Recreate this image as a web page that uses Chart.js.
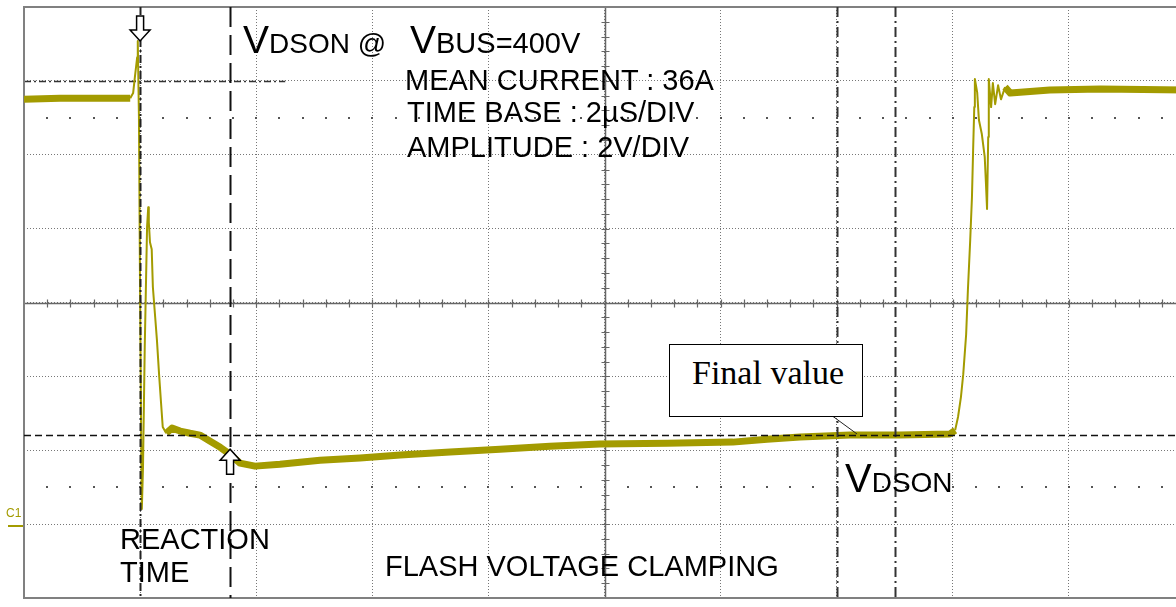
<!DOCTYPE html>
<html>
<head>
<meta charset="utf-8">
<title>VDSON flash voltage clamping</title>
<script src="https://cdn.jsdelivr.net/npm/chart.js@4/dist/chart.umd.min.js"></script>
<style>
  html, body { margin: 0; padding: 0; background: #fff; }
  #wrap { position: relative; width: 1176px; height: 607px; overflow: hidden; }
  #scope { position: absolute; left: 0; top: 0; }
  .lbl {
    position: absolute;
    font-family: "Liberation Sans", Arial, sans-serif;
    color: #000;
    line-height: 1;
    white-space: nowrap;
  }
  .box {
    position: absolute;
    box-sizing: border-box;
    border: 1.5px solid #000;
    background: #fff;
  }
  .serif { font-family: "Liberation Serif", "Times New Roman", serif; }
  .c1 { color: #a39b00; font-size: 12px; }
</style>
</head>
<body>
<div id="wrap">
  <canvas id="scope" width="1190" height="607"></canvas>

  <div class="lbl" style="left:243px; top:20px; font-size:39px;">V<span style="font-size:28px">DSON @</span></div>
  <div class="lbl" style="left:410px; top:20px; font-size:39px;">V<span style="font-size:29px">BUS=400V</span></div>
  <div class="lbl" style="left:405px; top:66px; font-size:29px;">MEAN CURRENT : 36A</div>
  <div class="lbl" style="left:407px; top:98px; font-size:29px;">TIME BASE : 2µS/DIV</div>
  <div class="lbl" style="left:407px; top:133px; font-size:29px;">AMPLITUDE : 2V/DIV</div>

  <div class="lbl" style="left:120px; top:525px; font-size:29px;">REACTION</div>
  <div class="lbl" style="left:120px; top:558px; font-size:29px;">TIME</div>
  <div class="lbl" style="left:385px; top:552px; font-size:29px;">FLASH VOLTAGE CLAMPING</div>
  <div class="lbl" style="left:845px; top:458px; font-size:40px;">V<span style="font-size:28px">DSON</span></div>

  <div class="box" style="left:669px; top:344px; width:194px; height:73px;"></div>
  <div class="lbl serif" style="left:692px; top:356px; font-size:34px;">Final value</div>

  <div class="lbl c1" style="left:6px; top:507px;">C1</div>
  <div style="position:absolute; left:8px; top:525px; width:15px; height:2px; background:#a39b00;"></div>
</div>

<script>
// Scope trace: time in µs (2 µs/div), drain-source voltage in V (2 V/div)
const timeUs = [
  0.00, 0.62, 1.83, 1.88, 1.91, 1.95, 1.96, 1.98, 2.00, 2.02,
  2.03, 2.05, 2.08, 2.12, 2.14, 2.15, 2.17, 2.20, 2.22, 2.26,
  2.29, 2.33, 2.36, 2.39, 2.45, 2.55, 2.69, 2.86, 3.03, 3.20,
  3.38, 3.55, 3.72, 3.98, 4.41, 5.10, 5.79, 6.48, 7.34, 8.20,
  9.06, 9.92, 11.08, 12.21, 12.80, 13.37, 14.23, 15.09, 15.95, 16.04,
  16.09, 16.14, 16.18, 16.23, 16.26, 16.30, 16.33, 16.35, 16.37, 16.38,
  16.42, 16.45, 16.50, 16.55, 16.57, 16.59, 16.61, 16.62, 16.66, 16.69,
  16.73, 16.78, 16.83, 16.90, 16.99, 17.67, 18.54, 20.00
];
const vdsVolts = [
  11.50, 11.53, 11.53, 11.67, 12.10, 12.64, 13.08, 11.02, 6.15, 2.08,
  0.41, 1.54, 4.79, 8.04, 8.58, 8.18, 7.63, 7.44, 6.42, 5.60,
  4.98, 3.98, 3.30, 2.63, 2.46, 2.60, 2.52, 2.46, 2.41, 2.25,
  2.08, 1.89, 1.65, 1.57, 1.62, 1.73, 1.79, 1.87, 1.95, 2.03,
  2.11, 2.17, 2.19, 2.22, 2.30, 2.36, 2.41, 2.41, 2.44, 2.54,
  2.90, 3.44, 4.06, 5.14, 6.33, 7.69, 8.85, 10.12, 11.29, 12.05,
  11.69, 10.94, 10.56, 9.94, 9.26, 8.53, 10.48, 12.05, 11.29, 11.94,
  11.37, 11.88, 11.50, 11.83, 11.67, 11.75, 11.78, 11.75
];

// Screen divisions
const timeTicks = [0, 2, 4, 6, 8, 10, 12, 14, 16, 18, 20];
const voltTicks = [-2, 0, 2, 4, 6, 8, 10, 12, 14];

// Cursors and markers
const reactionStart = 2.0;     // µs, down arrow
const reactionEnd = 3.55;      // µs, up arrow
const offCursors = [14.0, 15.0];
const finalValue = 2.41;       // V
const topCursor = 12.0;        // V
const halfDivRows = [11, 1];   // V, dotted rows

const traceColor = "#a39b00";

const scopeOverlay = {
  id: "scopeOverlay",
  beforeDatasetsDraw(chart) {
    const { ctx, chartArea: a, scales: { x, y } } = chart;
    ctx.save();

    // dotted half-division rows
    ctx.fillStyle = "#555";
    halfDivRows.forEach(v => {
      const py = Math.round(y.getPixelForValue(v));
      for (let t = 0.4; t < 20; t += 0.4) {
        ctx.fillRect(Math.round(x.getPixelForValue(t)) - 1, py - 1, 2, 2);
      }
    });

    // centre axes with minor ticks
    const cx = Math.round(x.getPixelForValue(10)) + 0.5;
    const cy = Math.round(y.getPixelForValue(6)) + 0.5;
    ctx.strokeStyle = "#666";
    ctx.lineWidth = 1.5;
    ctx.beginPath();
    ctx.moveTo(a.left, cy); ctx.lineTo(a.right, cy);
    ctx.moveTo(cx, a.top); ctx.lineTo(cx, a.bottom);
    ctx.stroke();
    ctx.lineWidth = 1.2;
    ctx.beginPath();
    for (let t = 0.4; t < 20; t += 0.4) {
      const px = Math.round(x.getPixelForValue(t)) + 0.5;
      ctx.moveTo(px, cy - 4); ctx.lineTo(px, cy + 4);
    }
    for (let v = -1.6; v < 14; v += 0.4) {
      const py = Math.round(y.getPixelForValue(v)) + 0.5;
      ctx.moveTo(cx - 4, py); ctx.lineTo(cx + 4, py);
    }
    ctx.stroke();

    // top-level cursor (partial)
    const ty = Math.round(y.getPixelForValue(topCursor)) + 0.5;
    ctx.strokeStyle = "#333";
    ctx.lineWidth = 1.5;
    ctx.setLineDash([7, 3, 2, 3]);
    ctx.beginPath();
    ctx.moveTo(a.left, ty); ctx.lineTo(x.getPixelForValue(4.5), ty);
    ctx.stroke();

    // frame
    ctx.setLineDash([]);
    ctx.strokeStyle = "#808080";
    ctx.lineWidth = 2;
    ctx.strokeRect(a.left, a.top, a.right - a.left, a.bottom - a.top);
    ctx.restore();
  },
  afterDatasetsDraw(chart) {
    const { ctx, chartArea: a, scales: { x, y } } = chart;
    ctx.save();

    const vline = (t, dash, w, color) => {
      const px = Math.round(x.getPixelForValue(t)) + 0.5;
      ctx.strokeStyle = color;
      ctx.lineWidth = w;
      ctx.setLineDash(dash);
      ctx.beginPath();
      ctx.moveTo(px, a.top); ctx.lineTo(px, a.bottom);
      ctx.stroke();
    };
    vline(reactionStart, [8, 3, 2, 3], 2, "#222");
    vline(reactionEnd, [20, 8], 2, "#111");
    offCursors.forEach(t => vline(t, [10, 4, 2, 4], 2, "#333"));

    // final value level
    const fy = Math.round(y.getPixelForValue(finalValue)) + 0.5;
    ctx.strokeStyle = "#111";
    ctx.lineWidth = 1.5;
    ctx.setLineDash([7, 4]);
    ctx.beginPath();
    ctx.moveTo(a.left, fy); ctx.lineTo(a.right, fy);
    ctx.stroke();

    // leader from "Final value" box to trace
    ctx.setLineDash([]);
    ctx.lineWidth = 1;
    ctx.strokeStyle = "#222";
    ctx.beginPath();
    ctx.moveTo(x.getPixelForValue(13.88), y.getPixelForValue(2.98));
    ctx.lineTo(x.getPixelForValue(14.35), y.getPixelForValue(2.44));
    ctx.stroke();

    // hollow arrows
    const arrow = (t, v, dir) => {
      const px = x.getPixelForValue(t);
      const py = y.getPixelForValue(v);
      const s = dir; // 1 = points down, -1 = points up
      ctx.beginPath();
      ctx.moveTo(px, py);
      ctx.lineTo(px - 10, py - 11 * s);
      ctx.lineTo(px - 3.5, py - 11 * s);
      ctx.lineTo(px - 3.5, py - 25 * s);
      ctx.lineTo(px + 3.5, py - 25 * s);
      ctx.lineTo(px + 3.5, py - 11 * s);
      ctx.lineTo(px + 10, py - 11 * s);
      ctx.closePath();
      ctx.fillStyle = "#fff";
      ctx.fill();
      ctx.strokeStyle = "#000";
      ctx.lineWidth = 1.5;
      ctx.stroke();
    };
    arrow(reactionStart, 13.08, 1);
    arrow(reactionEnd, 2.03, -1);

    ctx.restore();
  }
};

const points = timeUs.map((t, i) => ({ x: t, y: vdsVolts[i] }));

new Chart(document.getElementById("scope"), {
  type: "line",
  data: {
    datasets: [{
      data: points,
      borderColor: traceColor,
      borderWidth: 2,
      borderJoinStyle: "round",
      pointRadius: 0,
      tension: 0,
      segment: {
        // noisy flat stretches show as a wide band, fast edges as a thin line
        borderWidth: c => {
          const dx = Math.abs(c.p1.x - c.p0.x);
          const dy = Math.abs(c.p1.y - c.p0.y);
          return dy < dx * 1.2 ? 7 : 2;
        }
      }
    }]
  },
  options: {
    responsive: false,
    animation: false,
    events: [],
    layout: { padding: { left: 24, top: 7, right: 5, bottom: 9 } },
    plugins: { legend: { display: false }, tooltip: { enabled: false } },
    scales: {
      x: {
        type: "linear",
        min: 0, max: 20,
        afterBuildTicks: s => { s.ticks = timeTicks.map(v => ({ value: v })); },
        ticks: { display: false },
        grid: { color: "#777", lineWidth: 1, drawTicks: false },
        border: { display: false, dash: [1, 2] }
      },
      y: {
        type: "linear",
        min: -2, max: 14,
        afterBuildTicks: s => { s.ticks = voltTicks.map(v => ({ value: v })); },
        ticks: { display: false },
        grid: { color: "#777", lineWidth: 1, drawTicks: false },
        border: { display: false, dash: [1, 2] }
      }
    }
  },
  plugins: [scopeOverlay]
});
</script>
</body>
</html>
